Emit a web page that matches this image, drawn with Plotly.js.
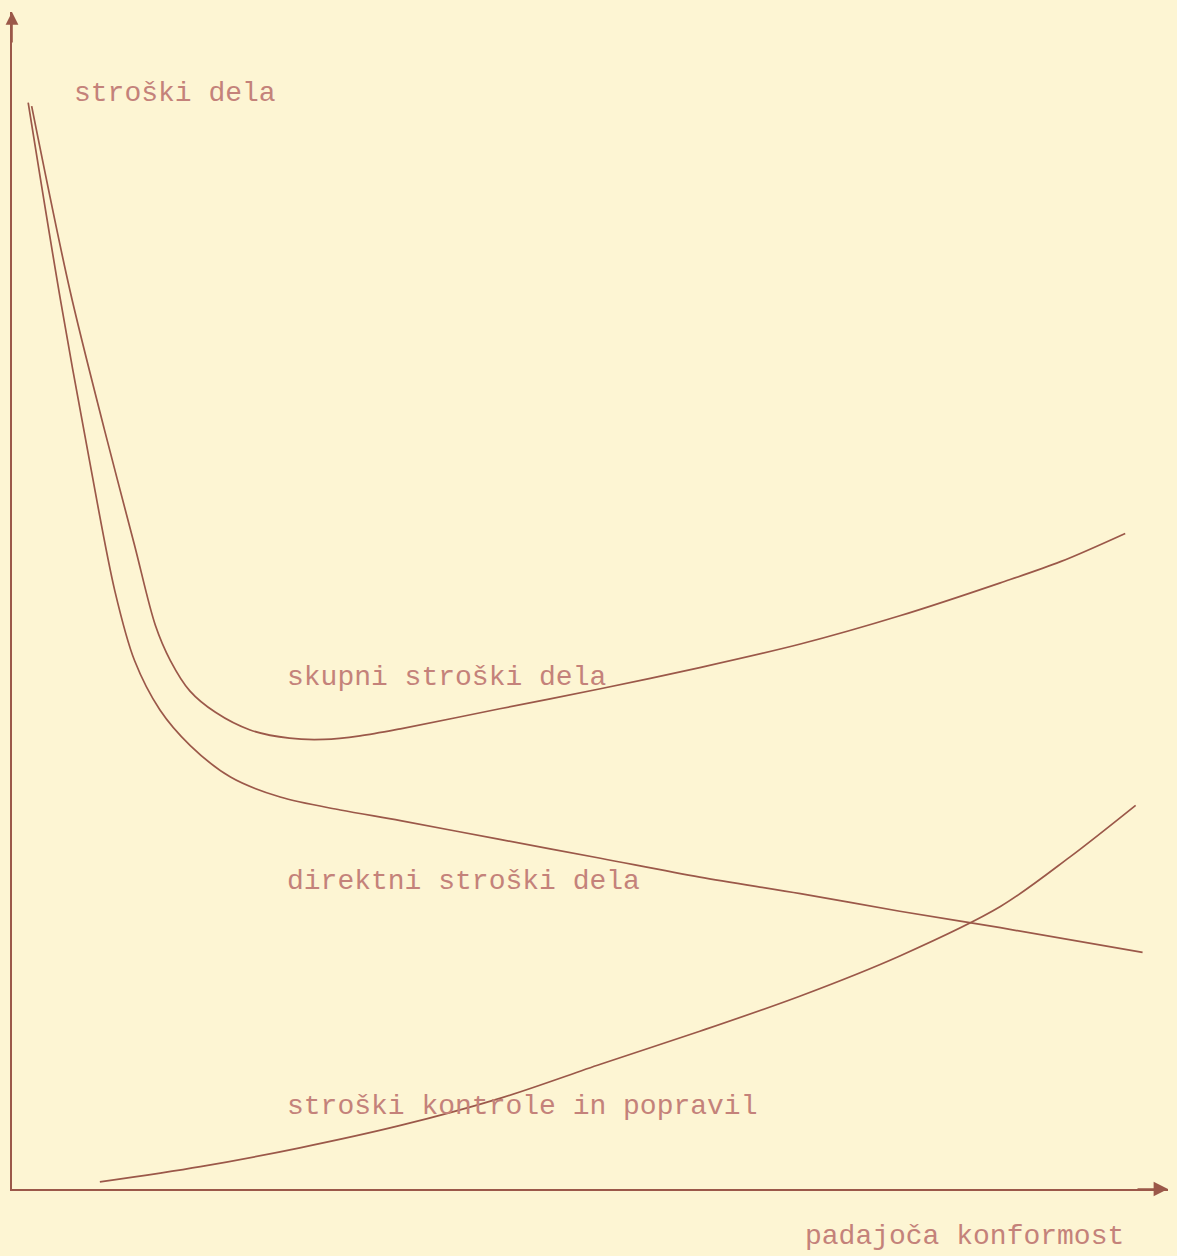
<!DOCTYPE html>
<html>
<head>
<meta charset="utf-8">
<script src="https://cdn.plot.ly/plotly-3.0.1.min.js"></script>
<style>
html,body{margin:0;padding:0;background:#fdf5d3;}
#chart{width:1177px;height:1256px;}
</style>
</head>
<body>
<div id="chart"></div>
<script>
// Conformity decline (arbitrary units, 0..100) and costs (arbitrary units, 0..100)
var totalX   = [1.7, 5.0, 8.0, 10.6, 12.4, 13.7, 15.4, 17.6, 20.6, 24.0, 27.0, 30.1, 33.6, 42.2, 50.9, 59.5, 68.2, 76.8, 85.5, 90.7, 96.3];
var totalY   = [92.0, 76.4, 64.5, 54.7, 47.9, 44.9, 42.3, 40.5, 39.0, 38.3, 38.2, 38.5, 39.1, 40.8, 42.5, 44.3, 46.3, 48.7, 51.5, 53.3, 55.7];

var directX  = [1.4, 4.2, 6.7, 8.9, 10.6, 12.8, 15.4, 18.9, 23.2, 28.4, 33.6, 42.2, 50.9, 59.5, 68.2, 76.8, 85.5, 97.8];
var directY  = [92.3, 75.5, 61.9, 50.8, 44.9, 40.7, 37.7, 35.0, 33.3, 32.2, 31.3, 29.7, 28.1, 26.5, 25.1, 23.6, 22.2, 20.1];

var controlX = [7.6, 16.3, 24.9, 33.6, 42.2, 50.9, 59.5, 68.2, 76.8, 85.5, 91.5, 97.2];
var controlY = [0.6, 1.9, 3.5, 5.4, 7.7, 10.6, 13.4, 16.4, 19.8, 24.0, 28.2, 32.6];

var labelTexts = ["skupni stroški dela", "direktni stroški dela", "stroški kontrole in popravil"];
var yAxisLabel = "stroški dela";
var xAxisLabel = "padajoča konformost";

var inkLine = "#9b5849";
var inkText = "#c4827a";
var paper = "#fdf5d3";
var typeFont = {family: "Liberation Mono, Courier New, monospace", size: 28, color: inkText};

function curve(x, y) {
  return {x: x, y: y, type: "scatter", mode: "lines",
          line: {color: inkLine, width: 1.7, shape: "spline", smoothing: 0.9},
          hoverinfo: "skip", showlegend: false};
}

var data = [curve(totalX, totalY), curve(directX, directY), curve(controlX, controlY)];

function lbl(text, x, y) {
  return {text: text, x: x, y: y, xref: "x", yref: "y", xanchor: "left", yanchor: "middle",
          showarrow: false, font: typeFont};
}

var layout = {
  width: 1177, height: 1256,
  margin: {l: 12, r: 9, t: 12, b: 67},
  paper_bgcolor: paper, plot_bgcolor: paper,
  showlegend: false,
  xaxis: {range: [0, 100], showline: true, linecolor: inkLine, linewidth: 1.6,
          showgrid: false, zeroline: false, showticklabels: false, ticks: "", fixedrange: true},
  yaxis: {range: [0, 100], showline: true, linecolor: inkLine, linewidth: 1.6,
          showgrid: false, zeroline: false, showticklabels: false, ticks: "", fixedrange: true},
  annotations: [
    lbl(yAxisLabel, 5.2, 93.1),
    lbl(labelTexts[0], 23.6, 43.5),
    lbl(labelTexts[1], 23.6, 26.1),
    lbl(labelTexts[2], 23.6, 7.0),
    {text: xAxisLabel, x: 0.684, y: -0.0555, xref: "paper", yref: "paper",
     xanchor: "left", yanchor: "bottom", showarrow: false, font: typeFont},
    // arrowheads on the axes
    {x: 0, y: 100, xref: "x", yref: "y", text: "", showarrow: true, ax: 0, ay: 32,
     arrowhead: 2, arrowsize: 1.6, arrowwidth: 1.6, arrowcolor: inkLine, standoff: 0},
    {x: 100, y: 0, xref: "x", yref: "y", text: "", showarrow: true, ax: -32, ay: 0,
     arrowhead: 2, arrowsize: 1.8, arrowwidth: 1.6, arrowcolor: inkLine, standoff: 0}
  ]
};

Plotly.newPlot("chart", data, layout, {staticPlot: true, displayModeBar: false});
</script>
</body>
</html>
